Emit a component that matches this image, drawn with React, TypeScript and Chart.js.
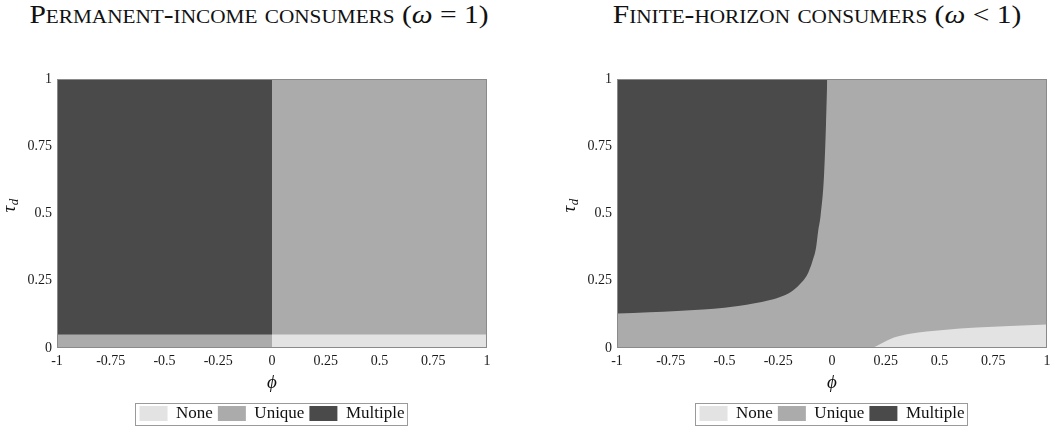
import React, { useEffect, useRef } from "react";
import { Chart, registerables } from "chart.js";

Chart.register(...registerables);

// ---------- data ----------
const phiTicks = [-1, -0.75, -0.5, -0.25, 0, 0.25, 0.5, 0.75, 1];
const tauTicks = [0, 0.25, 0.5, 0.75, 1];
const regionLabels = ["None", "Unique", "Multiple"];
const regionColors = ["#e3e3e3", "#ababab", "#4a4a4a"];
const titles = ["Permanent-income consumers", "Finite-horizon consumers"];
const titleConditions = ["= 1", "< 1"];
const xTitle = "ϕ";
const yTitleMain = "τ";
const yTitleSub = "d";

// Left panel (ω = 1)
const leftUniquePhi = [-1, 1];
const leftUniqueTau = [1, 1];
const leftMultiplePhi = [-1, 0]; // lower boundary, region above it
const leftMultipleTau = [0.05, 0.05];
const leftNonePhi = [0, 1]; // upper boundary, region below it
const leftNoneTau = [0.05, 0.05];

// Right panel (ω < 1)
const rightUniquePhi = [-1, 1];
const rightUniqueTau = [1, 1];
const rightMultiplePhi = [-1, -0.85, -0.72, -0.6, -0.5, -0.428, -0.366, -0.288, -0.226, -0.18, -0.141, -0.11, -0.09, -0.074, -0.064, -0.053, -0.037, -0.028, -0.022];
const rightMultipleTau = [0.128, 0.133, 0.138, 0.143, 0.15, 0.157, 0.165, 0.178, 0.194, 0.215, 0.244, 0.281, 0.325, 0.374, 0.437, 0.493, 0.642, 0.828, 1];
const rightNonePhi = [0.187, 0.223, 0.285, 0.363, 0.518, 0.673, 0.828, 1];
const rightNoneTau = [0, 0.014, 0.038, 0.053, 0.067, 0.076, 0.082, 0.087];

// ---------- helpers ----------
const zip = (xs: number[], ys: number[]) => xs.map((x, i) => ({ x, y: ys[i] }));
const SERIF = '"Liberation Serif", "DejaVu Serif", serif';

const framePlugin = {
  id: "frame",
  afterDatasetsDraw(chart: any) {
    const { ctx, chartArea: a } = chart;
    ctx.save();
    ctx.strokeStyle = "#8a8a8a";
    ctx.lineWidth = 1;
    ctx.strokeRect(a.left + 0.5, a.top + 0.5, a.right - a.left - 1, a.bottom - a.top - 1);
    ctx.restore();
  },
};

const yTitlePlugin = {
  id: "yTitle",
  afterDraw(chart: any) {
    const { ctx, chartArea: a } = chart;
    ctx.save();
    ctx.translate(a.left - 42, (a.top + a.bottom) / 2 - 1);
    ctx.rotate(-Math.PI / 2);
    ctx.fillStyle = "#111";
    ctx.textAlign = "left";
    ctx.textBaseline = "alphabetic";
    ctx.font = `italic 19px ${SERIF}`;
    ctx.fillText(yTitleMain, 0, 0);
    const w = ctx.measureText(yTitleMain).width;
    ctx.font = `italic 13px ${SERIF}`;
    ctx.fillText(yTitleSub, w + 0.5, 3);
    ctx.restore();
  },
};

const legendBorderPlugin = {
  id: "legendBorder",
  afterDraw(chart: any) {
    const lg = chart.legend;
    if (!lg || !lg.legendHitBoxes || !lg.legendHitBoxes.length) return;
    const hb = lg.legendHitBoxes;
    let l = Infinity, r = -Infinity, t = Infinity, b = -Infinity;
    hb.forEach((h: any) => {
      l = Math.min(l, h.left);
      r = Math.max(r, h.left + h.width);
      t = Math.min(t, h.top);
      b = Math.max(b, h.top + h.height);
    });
    const ctx = chart.ctx;
    ctx.save();
    ctx.strokeStyle = "#9a9a9a";
    ctx.lineWidth = 1;
    ctx.strokeRect(Math.round(l - 5) + 0.5, Math.round(t - 2) + 0.5, Math.round(r - l + 7), Math.round(b - t + 5));
    ctx.restore();
  },
};

type PanelProps = {
  left: number;
  width: number;
  rightPad: number;
  none: { x: number; y: number }[];
  unique: { x: number; y: number }[];
  multiple: { x: number; y: number }[];
};

const CANVAS_H = 432;

function Panel({ left, width, rightPad, none, unique, multiple }: PanelProps) {
  const ref = useRef<HTMLCanvasElement | null>(null);
  useEffect(() => {
    if (!ref.current) return;
    const common = {
      borderColor: "rgba(0,0,0,0)",
      borderWidth: 0,
      pointRadius: 0,
      cubicInterpolationMode: "monotone" as const,
    };
    const chart = new Chart(ref.current, {
      type: "line",
      data: {
        datasets: [
          { ...common, label: regionLabels[0], data: none, fill: "start", backgroundColor: regionColors[0], order: 0 },
          { ...common, label: regionLabels[1], data: unique, fill: "start", backgroundColor: regionColors[1], order: 2 },
          { ...common, label: regionLabels[2], data: multiple, fill: "end", backgroundColor: regionColors[2], order: 1 },
        ],
      },
      options: {
        animation: false,
        responsive: false,
        maintainAspectRatio: false,
        devicePixelRatio: 1,
        layout: { padding: { left: 0, right: rightPad, top: 79, bottom: 0 } },
        scales: {
          x: {
            type: "linear",
            min: -1,
            max: 1,
            grid: { display: false, drawTicks: false },
            border: { display: false },
            afterBuildTicks: (s: any) => {
              s.ticks = phiTicks.map((v) => ({ value: v }));
            },
            afterFit: (s: any) => {
              s.height = 52;
            },
            ticks: {
              padding: 5,
              maxRotation: 0,
              autoSkip: false,
              color: "#1a1a1a",
              font: { family: SERIF, size: 14 },
              callback: (v: any) => String(v),
            },
            title: {
              display: true,
              text: xTitle,
              color: "#111",
              font: { family: SERIF, size: 19, style: "italic" },
              padding: { top: 0, bottom: 6 },
            },
          },
          y: {
            type: "linear",
            min: 0,
            max: 1,
            grid: { display: false, drawTicks: false },
            border: { display: false },
            afterBuildTicks: (s: any) => {
              s.ticks = tauTicks.map((v) => ({ value: v }));
            },
            afterFit: (s: any) => {
              s.width = 57;
            },
            ticks: {
              padding: 5,
              autoSkip: false,
              color: "#1a1a1a",
              font: { family: SERIF, size: 14 },
              callback: (v: any) => String(v),
            },
          },
        },
        plugins: {
          legend: {
            display: true,
            position: "bottom",
            fullSize: false,
            onClick: () => {},
            labels: {
              boxWidth: 28,
              boxHeight: 15,
              padding: 5,
              color: "#111",
              font: { family: SERIF, size: 17, lineHeight: 1.06 },
              sort: (a: any, b: any) => a.datasetIndex - b.datasetIndex,
            },
          },
          tooltip: { enabled: false },
        },
      } as any,
      plugins: [framePlugin, yTitlePlugin, legendBorderPlugin],
    });
    return () => chart.destroy();
  }, []);
  return (
    <canvas
      ref={ref}
      width={width}
      height={CANVAS_H}
      style={{ position: "absolute", left, top: 0, width, height: CANVAS_H, display: "block" }}
    />
  );
}

const titleStyle: React.CSSProperties = {
  position: "absolute",
  top: 2,
  width: 500,
  textAlign: "center",
  fontFamily: SERIF,
  fontSize: 25,
  lineHeight: "25px",
  fontVariant: "small-caps",
  color: "#111",
  whiteSpace: "nowrap",
  transform: "scaleX(1.18)",
  transformOrigin: "50% 50%",
};

export default function App() {
  return (
    <div style={{ position: "fixed", left: 0, top: 0, width: 1057, height: 426, overflow: "hidden", background: "#fff" }}>
      <div style={{ ...titleStyle, left: 9 }}>
        {titles[0]} (<span style={{ fontStyle: "italic", fontVariant: "normal" }}>ω</span> {titleConditions[0]})
      </div>
      <div style={{ ...titleStyle, left: 567 }}>
        {titles[1]} (<span style={{ fontStyle: "italic", fontVariant: "normal" }}>ω</span> {titleConditions[1]})
      </div>
      <Panel
        left={0}
        width={528}
        rightPad={41}
        none={zip(leftNonePhi, leftNoneTau)}
        unique={zip(leftUniquePhi, leftUniqueTau)}
        multiple={zip(leftMultiplePhi, leftMultipleTau)}
      />
      <Panel
        left={560}
        width={497}
        rightPad={10}
        none={zip(rightNonePhi, rightNoneTau)}
        unique={zip(rightUniquePhi, rightUniqueTau)}
        multiple={zip(rightMultiplePhi, rightMultipleTau)}
      />
    </div>
  );
}
